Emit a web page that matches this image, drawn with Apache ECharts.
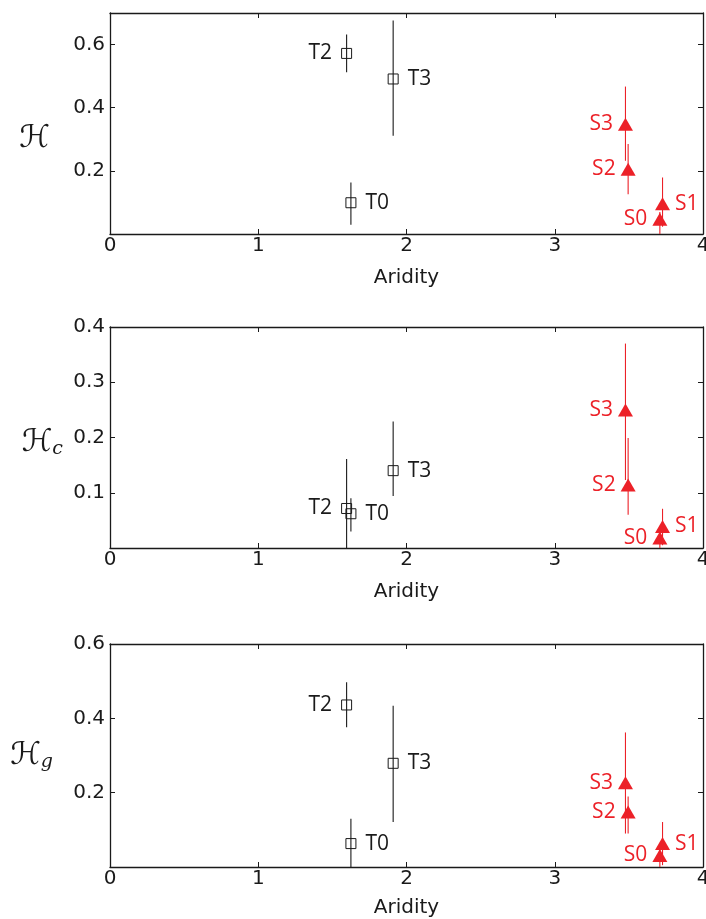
<!DOCTYPE html>
<html>
<head>
<meta charset="utf-8">
<script src="https://cdn.jsdelivr.net/npm/echarts@6/dist/echarts.min.js"></script>
<style>html,body{margin:0;padding:0;background:#fff}#c{width:706px;height:919px}</style>
</head>
<body>
<div id="c"></div>
<script>
// ---- data ----
const tNames = ['T0', 'T2', 'T3'];
const sNames = ['S0', 'S1', 'S2', 'S3'];
const aridityT = [1.625, 1.596, 1.91];
const aridityS = [3.709, 3.727, 3.495, 3.477];
const xTicks = [0, 1, 2, 3, 4];

// Panel 1: H
const hT = [0.099, 0.572, 0.491];
const hTLow = [0.029, 0.512, 0.311];
const hTHigh = [0.163, 0.632, 0.676];
const hS = [0.047, 0.096, 0.205, 0.348];
const hSLow = [0.0, 0.023, 0.126, 0.232];
const hSHigh = [0.07, 0.179, 0.285, 0.467];
const hTicks = [0.2, 0.4, 0.6];

// Panel 2: Hc
const hcT = [0.062, 0.0715, 0.14];
const hcTLow = [0.03, 0.0, 0.094];
const hcTHigh = [0.09, 0.161, 0.229];
const hcS = [0.018, 0.039, 0.114, 0.25];
const hcSLow = [0.0, 0.005, 0.06, 0.123];
const hcSHigh = [0.035, 0.071, 0.199, 0.37];
const hcTicks = [0.1, 0.2, 0.3, 0.4];

// Panel 3: Hg
const hgT = [0.063, 0.436, 0.279];
const hgTLow = [0.0, 0.376, 0.121];
const hgTHigh = [0.13, 0.497, 0.434];
const hgS = [0.031, 0.063, 0.148, 0.227];
const hgSLow = [0.0, 0.005, 0.09, 0.09];
const hgSHigh = [0.05, 0.121, 0.19, 0.362];
const hgTicks = [0.2, 0.4, 0.6];

// ---- styling / layout ----
const RED = '#ec2128';
const INK = '#1a1a1a';
const labelSide = {T0: 'right', T2: 'left', T3: 'right', S0: 'left', S1: 'right', S2: 'left', S3: 'left'};

const panels = [
  {top: 13, height: 221, max: 0.7, interval: 0.2, ticks: hTicks,
   T: hT, TL: hTLow, TH: hTHigh, S: hS, SL: hSLow, SH: hSHigh,
   name: '{m|ℋ}', nameGap: 60, namePad: [30, 0, 0, 0], xGap: 34},
  {top: 327, height: 221, max: 0.4, interval: 0.1, ticks: hcTicks,
   T: hcT, TL: hcTLow, TH: hcTHigh, S: hcS, SL: hcSLow, SH: hcSHigh,
   name: '{m|ℋ}{s|c}', nameGap: 47, namePad: [10, 0, 0, 0], xGap: 34},
  {top: 644, height: 223, max: 0.6, interval: 0.2, ticks: hgTicks,
   T: hgT, TL: hgTLow, TH: hgTHigh, S: hgS, SL: hgSLow, SH: hgSHigh,
   name: '{m|ℋ}{s|g}', nameGap: 57, namePad: [0, 0, 0, 0], xGap: 31}
];

const grids = [], xAxes = [], yAxes = [], series = [];
const axisLine = {show: true, onZero: false, lineStyle: {color: INK, width: 1.3}};
const tick = {show: true, inside: true, length: 5, lineStyle: {color: INK, width: 1}};

function errRender(color) {
  return function (params, api) {
    const x = api.value(0), lo = api.value(1), hi = api.value(2);
    const p1 = api.coord([x, lo]), p2 = api.coord([x, hi]);
    return {type: 'line', shape: {x1: p1[0], y1: p1[1], x2: p2[0], y2: p2[1]},
            style: {stroke: color, lineWidth: 1.1}};
  };
}

panels.forEach((p, i) => {
  grids.push({left: 110, top: p.top, width: 593, height: p.height, containLabel: false, outerBoundsMode: 'none'});
  xAxes.push({type: 'value', gridIndex: i, position: 'bottom', min: 0, max: 4, interval: 1,
    name: 'Aridity', nameLocation: 'middle', nameGap: p.xGap,
    nameTextStyle: {fontFamily: 'DejaVu Sans', fontSize: 20, color: INK},
    axisLine, axisTick: tick, splitLine: {show: false},
    axisLabel: {fontFamily: 'DejaVu Sans', fontSize: 20, color: INK, margin: 2, hideOverlap: false,
      formatter: v => xTicks.includes(v) ? String(v) : ''}});
  xAxes.push({type: 'value', gridIndex: i, position: 'top', min: 0, max: 4, interval: 1,
    axisLine, axisTick: tick, splitLine: {show: false}, axisLabel: {show: false}});
  yAxes.push({type: 'value', gridIndex: i, position: 'left', min: 0, max: p.max, interval: p.interval,
    name: p.name, nameLocation: 'middle', nameRotate: 0, nameGap: p.nameGap,
    nameTextStyle: {padding: p.namePad, rich: {
      m: {fontFamily: 'DejaVu Sans', fontSize: 31, color: INK},
      s: {fontFamily: 'DejaVu Serif', fontStyle: 'italic', fontSize: 19, color: INK, verticalAlign: 'bottom', padding: [14, 0, 0, 0]}
    }},
    axisLine, axisTick: tick, splitLine: {show: false},
    axisLabel: {fontFamily: 'DejaVu Sans', fontSize: 20, color: INK, margin: 5,
      formatter: v => p.ticks.some(t => Math.abs(t - v) < 1e-9) ? v.toFixed(1) : ''}});
  yAxes.push({type: 'value', gridIndex: i, position: 'right', min: 0, max: p.max, interval: p.interval,
    axisLine, axisTick: tick, splitLine: {show: false}, axisLabel: {show: false}});

  const xi = i * 2, yi = i * 2;
  series.push({type: 'custom', xAxisIndex: xi, yAxisIndex: yi, renderItem: errRender(INK),
    encode: {x: 0, y: [1, 2]}, z: 2,
    data: aridityT.map((x, k) => [x, p.TL[k], p.TH[k]])});
  series.push({type: 'custom', xAxisIndex: xi, yAxisIndex: yi, renderItem: errRender(RED),
    encode: {x: 0, y: [1, 2]}, z: 2,
    data: aridityS.map((x, k) => [x, p.SL[k], p.SH[k]])});
  series.push({type: 'scatter', xAxisIndex: xi, yAxisIndex: yi, symbol: 'rect', symbolSize: 10, z: 3,
    itemStyle: {color: 'rgba(0,0,0,0)', borderColor: INK, borderWidth: 1, opacity: 1},
    label: {show: true, formatter: '{b}', distance: 9, fontFamily: 'Open Sans', fontSize: 21, color: INK},
    data: aridityT.map((x, k) => ({name: tNames[k], value: [x, p.T[k]], label: {position: labelSide[tNames[k]]}}))});
  series.push({type: 'scatter', xAxisIndex: xi, yAxisIndex: yi, symbol: 'triangle', symbolSize: [15, 13], z: 4,
    itemStyle: {color: RED, opacity: 1},
    label: {show: true, formatter: '{b}', distance: 5, fontFamily: 'Open Sans', fontSize: 21, color: RED},
    data: aridityS.map((x, k) => ({name: sNames[k], value: [x, p.S[k]], label: {position: labelSide[sNames[k]]}}))});
});

const chart = echarts.init(document.getElementById('c'), null, {renderer: 'canvas'});
chart.setOption({animation: false, backgroundColor: '#fff', grid: grids, xAxis: xAxes, yAxis: yAxes, series});
</script>
</body>
</html>
